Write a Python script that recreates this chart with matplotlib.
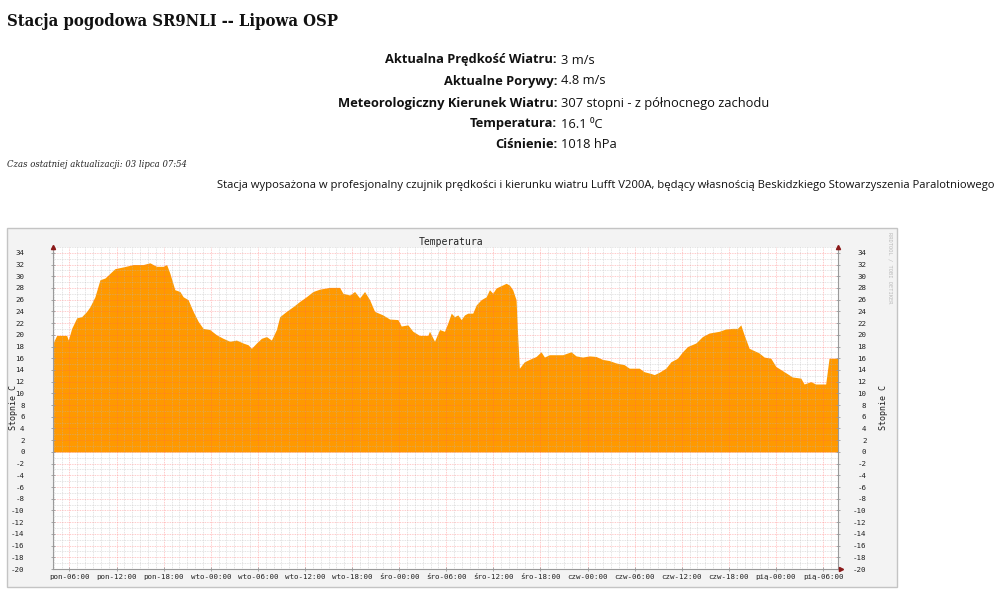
import matplotlib
matplotlib.use('Agg')
import matplotlib.pyplot as plt
from matplotlib.patches import Rectangle
from matplotlib.ticker import FixedLocator, MultipleLocator

# ---------------- data ----------------
# time in hours since Monday 00:00
hours = [3.90, 4.37, 5.64, 5.85, 6.28, 6.92, 7.55, 8.19, 8.61, 9.24, 9.88, 10.52,
         11.15, 11.79, 12.84, 14.12, 15.39, 16.24, 17.09, 17.93, 18.37, 18.79,
         19.42, 20.06, 20.48, 21.11, 21.75, 22.39, 23.02, 23.87, 24.73, 25.57,
         26.42, 27.27, 28.11, 28.75, 29.18, 29.82, 30.45, 31.09, 31.72, 32.36,
         32.78, 33.63, 34.47, 35.32, 36.17, 37.02, 37.87, 39.14, 40.41, 40.83,
         41.69, 42.32, 42.96, 43.59, 44.23, 44.87, 45.92, 46.77, 47.83, 48.26,
         49.10, 49.74, 50.59, 51.65, 51.86, 52.50, 53.14, 53.77, 54.19, 54.63,
         55.05, 55.47, 55.90, 56.32, 56.74, 57.37, 57.81, 58.44, 59.08, 59.50,
         59.92, 60.35, 60.99, 61.62, 62.04, 62.46, 62.89, 63.10, 63.31, 63.95,
         64.59, 65.44, 66.07, 66.50, 67.13, 67.98, 68.83, 69.89, 70.53, 71.37,
         72.22, 73.07, 73.91, 74.76, 75.61, 76.67, 77.31, 78.58, 79.21, 80.07,
         80.49, 81.12, 81.97, 82.61, 83.45, 84.09, 84.73, 85.79, 86.63, 87.48,
         88.76, 89.61, 90.45, 91.09, 91.52, 91.94, 92.58, 93.85, 94.49, 95.34,
         95.98, 97.04, 98.10, 99.16, 99.58, 100.43, 101.06, 102.33, 102.76,
         103.61, 103.90]
temps = [18.6, 19.9, 19.9, 19.1, 21.1, 22.9, 23.1, 24.0, 24.8, 26.5, 29.4, 29.7,
         30.5, 31.3, 31.6, 32.0, 32.0, 32.3, 31.7, 31.7, 32.0, 30.5,
         27.7, 27.4, 26.5, 26.0, 24.0, 22.3, 21.1, 20.9, 20.0, 19.4,
         18.9, 19.1, 18.6, 18.3, 17.7, 18.6, 19.4, 19.7, 19.1, 20.9,
         23.1, 24.0, 24.8, 25.7, 26.5, 27.4, 27.8, 28.1, 28.1, 27.1,
         26.8, 27.4, 26.3, 27.4, 26.0, 24.0, 23.4, 22.7, 22.6, 21.5,
         21.7, 20.6, 19.9, 19.9, 20.6, 18.9, 20.9, 20.6, 22.0, 23.7,
         23.1, 23.4, 22.6, 23.4, 23.7, 23.7, 25.1, 26.0, 26.5, 27.7,
         27.1, 28.0, 28.4, 28.8, 28.5, 27.7, 26.0, 19.7, 14.3, 15.4,
         15.8, 16.3, 17.1, 16.2, 16.6, 16.6, 16.6, 17.1, 16.4, 16.2,
         16.4, 16.3, 15.8, 15.6, 15.2, 14.9, 14.3, 14.3, 13.7, 13.4,
         13.2, 13.6, 14.3, 15.4, 16.0, 17.1, 18.0, 18.6, 19.7, 20.3,
         20.6, 21.0, 21.1, 21.1, 21.7, 20.0, 17.7, 16.9, 16.2, 16.0,
         14.6, 13.7, 12.8, 12.6, 11.6, 12.0, 11.6, 11.6, 16.0,
         16.0, 16.0]

x_tick_hours = [6, 12, 18, 24, 30, 36, 42, 48, 54, 60, 66, 72, 78, 84, 90, 96, 102]
x_tick_labels = ['pon-06:00', 'pon-12:00', 'pon-18:00', 'wto-00:00', 'wto-06:00',
                 'wto-12:00', 'wto-18:00', 'śro-00:00', 'śro-06:00', 'śro-12:00',
                 'śro-18:00', 'czw-00:00', 'czw-06:00', 'czw-12:00', 'czw-18:00',
                 'pią-00:00', 'pią-06:00']
y_ticks = list(range(-20, 35, 2))

page_title = 'Stacja pogodowa SR9NLI -- Lipowa OSP'
info_labels = ['Aktualna Prędkość Wiatru:', 'Aktualne Porywy:',
               'Meteorologiczny Kierunek Wiatru:', 'Temperatura:', 'Ciśnienie:']
info_values = ['3 m/s', '4.8 m/s', '307 stopni - z północnego zachodu',
               '16.1 \u2070C', '1018 hPa']
update_text = 'Czas ostatniej aktualizacji: 03 lipca 07:54'
station_text = ('Stacja wyposażona w profesjonalny czujnik prędkości i kierunku wiatru '
                'Lufft V200A, będący własnością Beskidzkiego Stowarzyszenia Paralotniowego')

# ---------------- figure ----------------
W, H = 1000, 590
fig = plt.figure(figsize=(W / 100, H / 100), dpi=100)
fig.patch.set_facecolor('white')


def fx(px):
    return px / W


def fy(py):
    return 1 - py / H


fig.canvas.draw()
renderer = fig.canvas.get_renderer()


def fit(t, width_px):
    bb = t.get_window_extent(renderer=renderer)
    t.set_fontsize(t.get_fontsize() * width_px / bb.width)


# page texts
t = fig.text(fx(7), fy(21), page_title, family='DejaVu Serif', stretch='condensed',
             weight='bold', fontsize=14, ha='left', va='center', color='#111111')
fit(t, 334)

sans = ['Open Sans', 'DejaVu Sans']
rows_base = [63.5, 84.5, 106.5, 127.5, 148.5]
for lab, val, yy in zip(info_labels, info_values, rows_base):
    fig.text(fx(557), fy(yy), lab, family=sans, weight='bold', fontsize=9.25,
             ha='right', va='baseline', color='#111111')
    fig.text(fx(561), fy(yy), val, family=sans, fontsize=9.3,
             ha='left', va='baseline', color='#111111')

t = fig.text(fx(7), fy(164), update_text, family='DejaVu Serif', style='italic',
             fontsize=7, ha='left', va='center', color='#222222')
fit(t, 181)

t = fig.text(fx(217), fy(185), station_text, family=sans, fontsize=9,
             ha='left', va='center', color='#111111')
fit(t, 778)

# chart frame
fig.patches.append(Rectangle((fx(7), fy(587)), fx(897) - fx(7), fy(228) - fy(587),
                             transform=fig.transFigure, facecolor='#F3F3F3',
                             edgecolor='#C4C4C4', linewidth=1, zorder=0))

ax = fig.add_axes([fx(53), fy(569), fx(838) - fx(53), fy(247) - fy(569)])
ax.set_zorder(2)
ax.set_facecolor('white')
ax.set_xlim(3.9, 103.9)
ax.set_ylim(-20, 35)

ax.fill_between(hours, temps, 0, color='#FF9900', linewidth=0, zorder=1)

# grid
ax.xaxis.set_major_locator(FixedLocator(x_tick_hours))
ax.xaxis.set_minor_locator(MultipleLocator(1))
ax.yaxis.set_major_locator(FixedLocator(y_ticks))
ax.yaxis.set_minor_locator(MultipleLocator(1))
ax.grid(which='minor', color='#B8B8B8', alpha=0.5, linestyle=(0, (1, 1)), linewidth=0.6, zorder=2)
ax.grid(which='major', color='#FF6060', alpha=0.45, linestyle=(0, (1, 1)), linewidth=0.6, zorder=2)
ax.set_axisbelow(False)

ax.set_xticklabels(x_tick_labels)
ax.set_yticklabels([str(v) for v in y_ticks])

ax.spines['top'].set_visible(False)
for side in ['left', 'bottom', 'right']:
    ax.spines[side].set_color('#9A9A9A')
    ax.spines[side].set_linewidth(0.8)

ax.tick_params(which='major', axis='both', direction='inout', length=3, width=0.6,
               color='#9A9A9A', labelsize=5.4, labelcolor='#222222')
ax.tick_params(which='minor', axis='both', length=0)
ax.tick_params(axis='y', left=True, right=True, labelleft=True, labelright=True, pad=3)
ax.tick_params(axis='x', pad=2)
for lbl in ax.get_xticklabels() + ax.get_yticklabels():
    lbl.set_family('DejaVu Sans Mono')
for tk in ax.yaxis.get_major_ticks():
    tk.label2.set_family('DejaVu Sans Mono')
    tk.label2.set_horizontalalignment('right')
    tk.set_pad(19)

# axis arrows
ax.plot([0], [1.0], marker='^', markersize=3, color='#8B1A1A', transform=ax.transAxes,
        clip_on=False, zorder=5)
ax.plot([1], [1.0], marker='^', markersize=3, color='#8B1A1A', transform=ax.transAxes,
        clip_on=False, zorder=5)
ax.plot([1.004], [0], marker='>', markersize=3, color='#8B1A1A', transform=ax.transAxes,
        clip_on=False, zorder=5)

# chart texts
fig.text(fx(451), fy(242), 'Temperatura', family='DejaVu Sans Mono', fontsize=7,
         ha='center', va='center', color='#222222')
fig.text(fx(13), fy(408), 'Stopnie C', family='DejaVu Sans Mono', fontsize=6,
         rotation=90, ha='center', va='center', color='#222222')
fig.text(fx(883), fy(408), 'Stopnie C', family='DejaVu Sans Mono', fontsize=6,
         rotation=90, ha='center', va='center', color='#222222')
fig.text(fx(890), fy(232), 'RRDTOOL / TOBI OETIKER', family='DejaVu Sans Mono',
         fontsize=3.9, rotation=270, ha='center', va='top', color='#BBBBBB')

fig.savefig('out.png', dpi=100, facecolor='white')
